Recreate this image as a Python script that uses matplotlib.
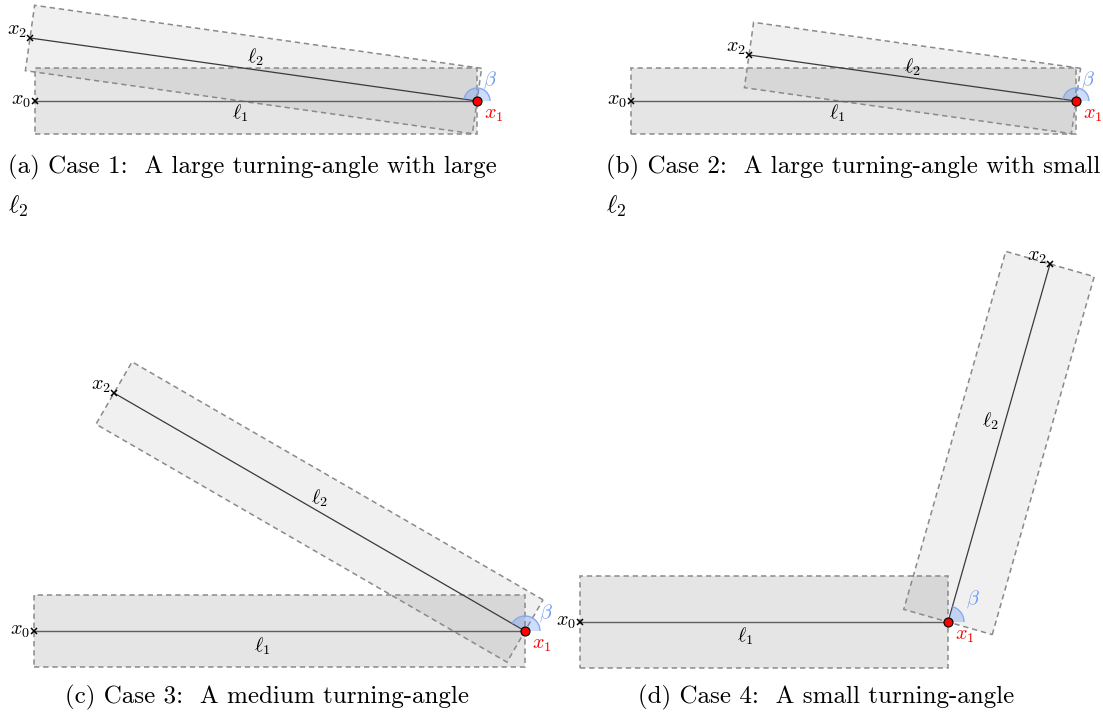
import numpy as np
import matplotlib
matplotlib.use("Agg")
import matplotlib.pyplot as plt
from matplotlib.patches import Polygon, Wedge, Arc

plt.rcParams["mathtext.fontset"] = "cm"

# Polyline vertices for each case (canvas pixel units, y grows downward)
X0 = [(35, 101), (631, 101), (34, 631), (580, 622)]
X1 = [(477, 101), (1076, 101), (525, 631), (948, 622)]
X2 = [(30, 38), (749, 55), (114, 393), (1050, 264)]
HALF_WIDTH = [33, 33, 36, 46]

CAPTIONS = [
    ["(a) Case 1:  A large turning-angle with large", "$\\ell_2$"],
    ["(b) Case 2:  A large turning-angle with small", "$\\ell_2$"],
    ["(c) Case 3:  A medium turning-angle"],
    ["(d) Case 4:  A small turning-angle"],
]

# Layout of annotations
WEDGE_R = [13, 13, 15, 16]
BETA_OFFSET = [(13, -21), (12, -21), (21, -18), (25, -23)]
L1_OFFSET = [(-16, 12), (-16, 12), (-17, 15), (-19, 14)]
L2_OFFSET = [(2, -12), (0, -11), (0, -14), (-9, -22)]
CAPTION_POS = [(8, 173, "left"), (606, 173, "left"), (267, 703, "center"), (826, 703, "center")]
CAPTION_LINE_GAP = 40

W, H = 1103, 718
fig = plt.figure(figsize=(W / 100, H / 100), dpi=100)
ax = fig.add_axes([0, 0, 1, 1])
ax.set_xlim(0, W)
ax.set_ylim(H, 0)
ax.axis("off")

LBL = 14.5
DASH = (0, (3.5, 2.5))


def strip(p, q, w):
    p, q = np.asarray(p, float), np.asarray(q, float)
    d = (q - p) / np.linalg.norm(q - p)
    n = np.array([-d[1], d[0]]) * w
    return [p + n, q + n, q - n, p - n]


for i in range(4):
    p0, p1, p2 = np.array(X0[i], float), np.array(X1[i], float), np.array(X2[i], float)
    w = HALF_WIDTH[i]
    r1 = strip(p0, p1, w)
    r2 = strip(p1, p2, w)
    ax.add_patch(Polygon(r1, closed=True, facecolor="black", alpha=0.10,
                         edgecolor="none", zorder=1))
    ax.add_patch(Polygon(r2, closed=True, facecolor="black", alpha=0.06,
                         edgecolor="none", zorder=1))
    for r in (r1, r2):
        ax.add_patch(Polygon(r, closed=True, fill=False, edgecolor="#8a8a8a",
                             lw=1.1, ls=DASH, zorder=2))

    ax.plot([p0[0], p1[0]], [p0[1], p1[1]], color="#5f5f5f", lw=1.0, zorder=3)
    ax.plot([p1[0], p2[0]], [p1[1], p2[1]], color="#3a3a3a", lw=0.9, zorder=3)

    ang = np.degrees(np.arctan2(p2[1] - p1[1], p2[0] - p1[0]))
    ax.add_patch(Wedge(p1, WEDGE_R[i], ang, 0, facecolor="#5b8ff0", alpha=0.30,
                       edgecolor="none", zorder=4))
    ax.add_patch(Arc(p1, 2 * WEDGE_R[i], 2 * WEDGE_R[i], theta1=ang, theta2=0,
                     color="#86aaf0", lw=1.0, zorder=4))

    ax.plot(*p0, marker="x", ms=4.5, mew=1.1, color="black", zorder=5)
    ax.plot(*p2, marker="x", ms=4.5, mew=1.1, color="black", zorder=5)
    ax.plot(*p1, marker="o", ms=6.5, mfc="red", mec="black", mew=0.8, zorder=6)

    ax.text(p0[0] - 4, p0[1] + 4, "$x_0$", fontsize=LBL, ha="right", va="baseline", zorder=7)
    ax.text(p2[0] - 3, p2[1] - 3, "$x_2$", fontsize=LBL, ha="right", va="baseline", zorder=7)
    ax.text(p1[0] + 7, p1[1] + 18, "$x_1$", fontsize=LBL, ha="left", va="baseline",
            color="red", zorder=7)
    bx, by = BETA_OFFSET[i]
    ax.text(p1[0] + bx, p1[1] + by, r"$\beta$", fontsize=LBL, ha="center", va="center",
            color="#6f9cf0", zorder=7)
    m1 = (p0 + p1) / 2
    m2 = (p1 + p2) / 2
    ax.text(m1[0] + L1_OFFSET[i][0], m1[1] + L1_OFFSET[i][1], r"$\ell_1$", fontsize=LBL,
            ha="center", va="center", zorder=7)
    ax.text(m2[0] + L2_OFFSET[i][0], m2[1] + L2_OFFSET[i][1], r"$\ell_2$", fontsize=LBL,
            ha="center", va="center", zorder=7)

for lines, (cx, cy, ha) in zip(CAPTIONS, CAPTION_POS):
    for k, line in enumerate(lines):
        ax.text(cx, cy + k * CAPTION_LINE_GAP, line, fontsize=18, family="cmr10",
                ha=ha, va="baseline")

fig.savefig("out.png", dpi=100)
